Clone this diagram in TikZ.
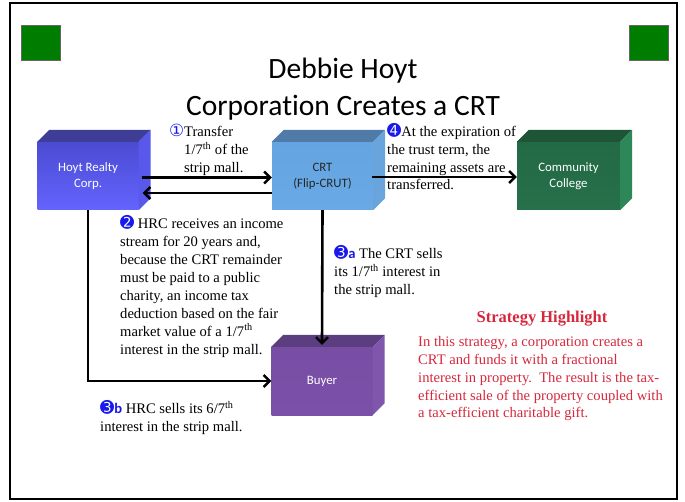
\documentclass[tikz,border=0pt]{standalone}
\usepackage{fontspec}
\setmainfont{Liberation Serif}
\setsansfont{Carlito}[Ligatures=NoCommon]
\newfontfamily\symfont{DejaVu Sans}[Scale=1.15]
\usepackage{xcolor}
\usetikzlibrary{arrows.meta}

\definecolor{numblue}{RGB}{25,25,235}
\definecolor{notered}{RGB}{214,40,60}
\definecolor{sqgreen}{RGB}{0,125,0}

\newcommand{\circnum}[1]{{\color{numblue}\symfont #1}}
\newcommand{\cubefaces}[3]{%
  \fill[#2] (#1.north west) -- ++(12,-12) -- ([shift={(12,-12)}]#1.north east) -- (#1.north east) -- cycle;
  \fill[#3] (#1.north east) -- ++(12,-12) -- ([shift={(12,-12)}]#1.south east) -- (#1.south east) -- cycle;}

\tikzset{
  cube/.style={minimum width=101pt, minimum height=68pt, inner sep=0pt, align=center,
    font=\sffamily\fontsize{12.8}{16}\selectfont},
  flow/.style={line width=2.6pt, -{Straight Barb[length=6pt,width=12pt,line width=2.4pt]}},
  note/.style={anchor=north west, align=left, inner sep=0pt, font=\fontsize{14.6}{17.9}\selectfont},
}

\begin{document}
\begin{tikzpicture}[x=1pt,y=-1pt]
\useasboundingbox (0,0) rectangle (685,502);
% slide frame and corner squares
\draw[line width=2.2pt] (10,3) rectangle (677,499);
\draw[fill=sqgreen, draw=black!60, line width=0.6pt] (21,25) rectangle (60,60);
\draw[fill=sqgreen, draw=black!60, line width=0.6pt] (629,25) rectangle (668,60);

\node[font=\sffamily\fontsize{29.5}{36.5}\selectfont, align=center] (title) at (343,89) {Debbie Hoyt\\Corporation Creates a CRT};

% boxes
\node[cube, text=white, top color={rgb,255:red,75;green,75;blue,210}, middle color={rgb,255:red,95;green,95;blue,250}, bottom color={rgb,255:red,100;green,100;blue,255}] (hoyt) at (88,176) {Hoyt Realty\\Corp.};
\cubefaces{hoyt}{fill={rgb,255:red,62;green,62;blue,150}}{fill={rgb,255:red,88;green,88;blue,235}}
\node[cube, text=black!85, top color={rgb,255:red,100;green,165;blue,225}, middle color={rgb,255:red,122;green,188;blue,250}, bottom color={rgb,255:red,105;green,170;blue,230}] (crt) at (322.5,176) {CRT\\(Flip-CRUT)};
\cubefaces{crt}{fill={rgb,255:red,80;green,122;blue,168}}{fill={rgb,255:red,105;green,165;blue,220}}
\node[cube, text=white, minimum width=103pt, top color={rgb,255:red,35;green,105;blue,70}, middle color={rgb,255:red,45;green,128;blue,85}, bottom color={rgb,255:red,38;green,112;blue,74}] (cc) at (568.5,176) {Community\\College};
\cubefaces{cc}{fill={rgb,255:red,30;green,85;blue,55}}{fill={rgb,255:red,46;green,135;blue,88}}
\node[cube, text=white, top color={rgb,255:red,120;green,78;blue,165}, middle color={rgb,255:red,150;green,100;blue,200}, bottom color={rgb,255:red,122;green,80;blue,168}] (buyer) at (322,381) {Buyer};
\cubefaces{buyer}{fill={rgb,255:red,92;green,62;blue,128}}{fill={rgb,255:red,128;green,86;blue,172}}

% arrows
\draw[flow] ([shift={(3pt,-1.5pt)}]hoyt.east) -- ([yshift=-1.5pt]crt.west);
\draw[flow] ([yshift=-17pt]crt.west) -- ([shift={(4pt,-17pt)}]hoyt.east);
\draw[flow] ([xshift=-1pt,yshift=-1pt]crt.east) -- ([yshift=-1pt]cc.west);
\draw[flow] (crt.south) -- ([yshift=2pt]buyer.north);
\draw[flow] (hoyt.south) |- (buyer.west);

% notes
\node[note] (step1) at (184,124) {\llap{\circnum{①}}Transfer\\1/7\textsuperscript{th} of the\\strip mall.};
\node[note] (step4) at (387,123) {\circnum{➍}At the expiration of\\the trust term, the\\remaining assets are\\transferred.};
\node[note] (step2) at (120,215.5) {\circnum{➋} HRC receives an income\\stream for 20 years and,\\because the CRT remainder\\must be paid to a public\\charity, an income tax\\deduction based on the fair\\market value of a 1/7\textsuperscript{th}\\interest in the strip mall.};
\node[note] (step3a) at (334,245.5) {\circnum{➌}{\color{numblue}\sffamily\bfseries a} The CRT sells\\its 1/7\textsuperscript{th} interest in\\the strip mall.};
\node[note] (step3b) at (100,400) {\circnum{➌}{\color{numblue}\sffamily\bfseries b} HRC sells its 6/7\textsuperscript{th}\\interest in the strip mall.};

\node[text=notered, font=\bfseries\fontsize{16.5}{20}\selectfont] (hltitle) at (542,318.5) {Strategy Highlight};
\node[note, text=notered] (hltext) at (418,336) {In this strategy, a corporation creates a\\CRT and funds it with a fractional\\interest in property.\ \ The result is the tax-\\efficient sale of the property coupled with\\a tax-efficient charitable gift.};
\end{tikzpicture}
\end{document}
